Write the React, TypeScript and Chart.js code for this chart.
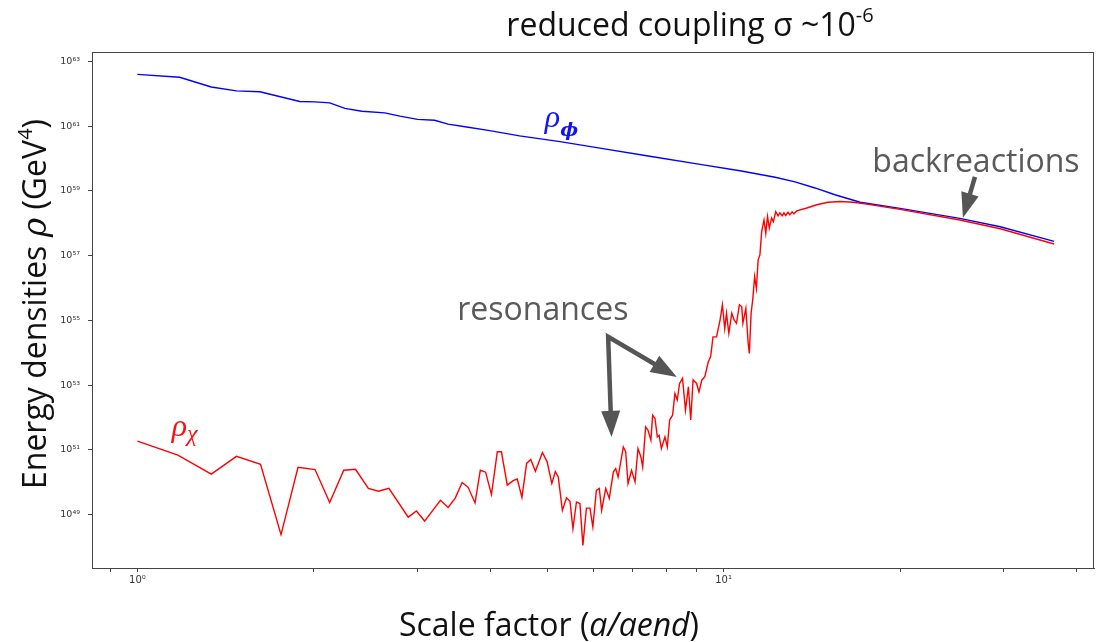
import React, { useEffect, useRef } from 'react';
import { Chart, registerables } from 'chart.js';

Chart.register(...registerables);

// ---- data (log10 of a/aend and log10 of rho in GeV^4) ----
const phiLogA = [0, 0.072, 0.126, 0.169, 0.209, 0.277, 0.303, 0.328, 0.354, 0.383, 0.422, 0.448, 0.478, 0.507, 0.530, 0.559, 0.601, 0.652, 0.721, 0.789, 0.874, 0.960, 1.028, 1.088, 1.122, 1.156, 1.190, 1.233, 1.301, 1.403, 1.472, 1.564];
const phiLogRho = [62.60, 62.51, 62.21, 62.09, 62.06, 61.76, 61.75, 61.72, 61.55, 61.46, 61.41, 61.31, 61.21, 61.18, 61.06, 60.98, 60.86, 60.70, 60.52, 60.32, 60.07, 59.82, 59.62, 59.42, 59.28, 59.09, 58.88, 58.65, 58.46, 58.15, 57.89, 57.44];

const chiLogA = [
  0.000, 0.069, 0.126, 0.169, 0.210, 0.245, 0.274, 0.303, 0.328, 0.352,
  0.372, 0.394, 0.411, 0.429, 0.462, 0.476, 0.490, 0.517, 0.530, 0.542,
  0.554, 0.564, 0.576, 0.585, 0.594, 0.604, 0.614, 0.621, 0.631, 0.641,
  0.648, 0.656, 0.664, 0.671, 0.679, 0.691, 0.699, 0.707, 0.713, 0.718,
  0.725, 0.732, 0.738, 0.743, 0.749, 0.755, 0.760, 0.766, 0.772, 0.777,
  0.783, 0.788, 0.792, 0.799, 0.805, 0.812, 0.816, 0.820, 0.829, 0.833,
  0.837, 0.843, 0.849, 0.854, 0.859, 0.862, 0.867, 0.871, 0.876, 0.879,
  0.883, 0.887, 0.890, 0.894, 0.900, 0.904, 0.908, 0.913, 0.917, 0.921,
  0.925, 0.930, 0.935, 0.940, 0.944, 0.948, 0.954, 0.958, 0.963, 0.968,
  0.974, 0.978, 0.982, 0.988, 0.994, 0.998, 1.002, 1.005, 1.009, 1.014,
  1.018, 1.022, 1.027, 1.031, 1.033, 1.038, 1.042, 1.044, 1.047, 1.050,
  1.053, 1.056, 1.059, 1.062, 1.065, 1.069, 1.072, 1.075, 1.078, 1.082,
  1.085, 1.089, 1.093, 1.096, 1.100, 1.103, 1.106, 1.110, 1.113, 1.117,
  1.120, 1.125, 1.142, 1.159, 1.178, 1.199, 1.221, 1.244, 1.301, 1.403,
  1.472, 1.564,
];
const chiLogRho = [
  51.27, 50.84, 50.25, 50.80, 50.55, 48.38, 50.46, 50.39, 49.37, 50.37,
  50.40, 49.81, 49.72, 49.81, 48.92, 49.11, 48.80, 49.44, 49.22, 49.50,
  49.99, 49.85, 49.36, 50.37, 50.31, 49.62, 50.94, 50.94, 49.91, 50.05,
  50.10, 49.53, 50.58, 50.70, 50.34, 50.92, 50.63, 49.96, 50.33, 50.16,
  49.13, 49.52, 49.41, 48.57, 49.39, 49.34, 48.05, 49.20, 49.20, 48.62,
  49.75, 49.81, 49.13, 49.81, 49.50, 50.32, 50.42, 50.16, 51.09, 50.94,
  49.96, 50.37, 50.01, 51.04, 50.78, 50.47, 51.71, 51.61, 51.30, 52.07,
  51.97, 51.40, 51.45, 51.04, 51.40, 51.09, 51.92, 52.07, 52.74, 52.54,
  53.05, 53.21, 52.23, 52.95, 51.92, 53.16, 53.05, 52.79, 53.16, 53.26,
  53.72, 53.88, 54.49, 54.49, 55.01, 55.48, 54.75, 55.22, 54.60, 55.22,
  55.01, 54.91, 55.48, 55.42, 54.91, 55.37, 54.29, 53.98, 55.22, 55.68,
  56.35, 55.99, 56.87, 57.02, 57.74, 58.10, 57.69, 58.21, 57.85, 58.16,
  58.05, 58.36, 58.23, 58.32, 58.23, 58.32, 58.24, 58.34, 58.26, 58.35,
  58.29, 58.38, 58.47, 58.57, 58.65, 58.67, 58.65, 58.59, 58.43, 58.10,
  57.83, 57.36,
];

// axis ranges (log10) and ticks
const xLogMin = -0.0775;
const xLogMax = 1.632;
const yLogMin = 47.35;
const yLogMax = 63.29;
const xTickValues = [0.9, 1, 2, 3, 4, 5, 6, 7, 8, 9, 10, 20, 30, 40];
const xTickLabels: Record<string, string> = { '1': '10⁰', '10': '10¹' };
const yTickExponents = [49, 51, 53, 55, 57, 59, 61, 63];

// annotation anchors in data coordinates (log10 a, log10 rho)
const resonanceText = [0.6917, 55.01];
const resonanceFrom = [0.8031, 54.494];
const resonanceTip1 = [0.8089, 51.4];
const resonanceTip2 = [0.9203, 53.247];
const backText = [1.4306, 59.59];
const backFrom = [1.4289, 59.434];
const backTip = [1.4084, 58.166];
const phiLabelAt = [0.695, 60.98];
const chiLabelAt = [0.0585, 51.42];

const SUP: Record<string, string> = { '0': '⁰', '1': '¹', '2': '²', '3': '³', '4': '⁴', '5': '⁵', '6': '⁶', '7': '⁷', '8': '⁸', '9': '⁹', '-': '⁻' };
const supStr = (s: string) => s.split('').map((c) => SUP[c] ?? c).join('');

type Run = { text: string; font: string; color: string; dy?: number };

function drawRuns(ctx: CanvasRenderingContext2D, runs: Run[], x: number, y: number, align: 'left' | 'center') {
  ctx.textAlign = 'left';
  ctx.textBaseline = 'alphabetic';
  let total = 0;
  for (const r of runs) {
    ctx.font = r.font;
    total += ctx.measureText(r.text).width;
  }
  let cx = align === 'center' ? x - total / 2 : x;
  for (const r of runs) {
    ctx.font = r.font;
    ctx.fillStyle = r.color;
    ctx.fillText(r.text, cx, y + (r.dy || 0));
    cx += ctx.measureText(r.text).width;
  }
}

function arrowHead(ctx: CanvasRenderingContext2D, x0: number, y0: number, x1: number, y1: number, hl: number, hw: number) {
  const dx = x1 - x0, dy = y1 - y0;
  const L = Math.hypot(dx, dy);
  const ux = dx / L, uy = dy / L;
  const bx = x1 - ux * hl, by = y1 - uy * hl;
  ctx.beginPath();
  ctx.moveTo(x1, y1);
  ctx.lineTo(bx - (uy * hw) / 2, by + (ux * hw) / 2);
  ctx.lineTo(bx + (uy * hw) / 2, by - (ux * hw) / 2);
  ctx.closePath();
  ctx.fill();
  return [bx + ux * 2, by + uy * 2];
}

const F = '"Open Sans"';

const framePlugin = {
  id: 'frameAndText',
  afterDraw(chart: any) {
    const ctx: CanvasRenderingContext2D = chart.ctx;
    const { left, top, right, bottom } = chart.chartArea;
    const xs = chart.scales.x, ys = chart.scales.y;
    const P = (p: number[]) => [xs.getPixelForValue(Math.pow(10, p[0])), ys.getPixelForValue(Math.pow(10, p[1]))];
    ctx.save();
    // frame
    ctx.strokeStyle = '#444';
    ctx.lineWidth = 1;
    ctx.strokeRect(Math.round(left) + 0.5, Math.round(top) + 0.5, Math.round(right - left) - 1, Math.round(bottom - top));

    // title
    drawRuns(ctx, [
      { text: 'reduced coupling σ ~10', font: `32px ${F}`, color: '#111' },
      { text: '-6', font: `20px ${F}`, color: '#111', dy: -14 },
    ], 690, 36, 'center');

    // x title
    drawRuns(ctx, [
      { text: 'Scale factor (', font: `32px ${F}`, color: '#111' },
      { text: 'a/aend', font: `italic 32px ${F}`, color: '#111' },
      { text: ')', font: `32px ${F}`, color: '#111' },
    ], 549, 636, 'center');

    // y title
    ctx.save();
    ctx.translate(46, 304);
    ctx.rotate(-Math.PI / 2);
    drawRuns(ctx, [
      { text: 'Energy densities ', font: `32px ${F}`, color: '#111' },
      { text: 'ρ', font: 'italic 33px "DejaVu Serif"', color: '#111' },
      { text: ' (GeV', font: `32px ${F}`, color: '#111' },
      { text: '4', font: `20px ${F}`, color: '#111', dy: -14 },
      { text: ')', font: `32px ${F}`, color: '#111' },
    ], 0, 0, 'center');
    ctx.restore();

    // series labels
    const pp = P(phiLabelAt);
    drawRuns(ctx, [
      { text: 'ρ', font: 'italic 32px "Liberation Serif"', color: '#1010ff' },
      { text: 'ϕ', font: 'bold italic 19px "DejaVu Serif"', color: '#1010ff', dy: 9 },
    ], pp[0], pp[1], 'left');
    const pc = P(chiLabelAt);
    drawRuns(ctx, [
      { text: 'ρ', font: 'italic 32px "Liberation Serif"', color: '#ff1010' },
      { text: 'χ', font: 'italic 24px "Liberation Serif"', color: '#ff1010', dy: 5 },
    ], pc[0], pc[1], 'left');

    // annotations
    const grey = '#5a5a5a';
    const rt = P(resonanceText);
    drawRuns(ctx, [{ text: 'resonances', font: `32px ${F}`, color: grey }], rt[0], rt[1], 'center');
    const bt = P(backText);
    drawRuns(ctx, [{ text: 'backreactions', font: `32px ${F}`, color: grey }], bt[0], bt[1], 'center');

    ctx.fillStyle = '#555';
    ctx.strokeStyle = '#555';
    ctx.lineWidth = 4.5;
    ctx.lineJoin = 'miter';
    ctx.lineCap = 'butt';
    const o = P(resonanceFrom), t1 = P(resonanceTip1), t2 = P(resonanceTip2);
    const b1 = arrowHead(ctx, o[0], o[1], t1[0], t1[1], 26, 19);
    const b2 = arrowHead(ctx, o[0], o[1], t2[0], t2[1], 26, 19);
    ctx.beginPath();
    ctx.moveTo(b1[0], b1[1]);
    ctx.lineTo(o[0], o[1]);
    ctx.lineTo(b2[0], b2[1]);
    ctx.stroke();
    const bf = P(backFrom), btp = P(backTip);
    const b3 = arrowHead(ctx, bf[0], bf[1], btp[0], btp[1], 25, 18);
    ctx.beginPath();
    ctx.moveTo(bf[0], bf[1]);
    ctx.lineTo(b3[0], b3[1]);
    ctx.stroke();
    ctx.restore();
  },
};

const toPoints = (la: number[], lr: number[]) => la.map((v, i) => ({ x: Math.pow(10, v), y: Math.pow(10, lr[i]) }));

export default function App() {
  const ref = useRef<HTMLCanvasElement>(null);
  useEffect(() => {
    if (!ref.current) return;
    const chart = new Chart(ref.current, {
      type: 'line',
      data: {
        datasets: [
          {
            label: 'rho_chi',
            data: toPoints(chiLogA, chiLogRho),
            borderColor: '#ff0000',
            borderWidth: 1.4,
            pointRadius: 0,
            tension: 0,
            fill: false,
          },
          {
            label: 'rho_phi',
            data: toPoints(phiLogA, phiLogRho),
            borderColor: '#0000ff',
            borderWidth: 1.4,
            pointRadius: 0,
            tension: 0,
            fill: false,
          },
        ],
      },
      options: {
        animation: false,
        responsive: false,
        devicePixelRatio: 1,
        layout: { padding: { left: 0, top: 52, right: 6, bottom: 0 } },
        plugins: { legend: { display: false }, tooltip: { enabled: false }, title: { display: false } },
        scales: {
          x: {
            type: 'logarithmic',
            min: Math.pow(10, xLogMin),
            max: Math.pow(10, xLogMax),
            afterBuildTicks: (s: any) => {
              s.ticks = xTickValues.map((v) => ({ value: v }));
            },
            afterFit: (s: any) => {
              s.height = 74;
            },
            ticks: {
              autoSkip: false,
              maxRotation: 0,
              minRotation: 0,
              padding: 2,
              color: '#333',
              font: { family: 'DejaVu Sans', size: 10 },
              callback: (v: any) => xTickLabels[String(v)] ?? '',
            },
            grid: { drawOnChartArea: false, drawTicks: true, tickLength: 4, color: '#444' },
            border: { display: true, color: '#444', width: 1 },
          },
          y: {
            type: 'logarithmic',
            min: Math.pow(10, yLogMin),
            max: Math.pow(10, yLogMax),
            afterBuildTicks: (s: any) => {
              s.ticks = yTickExponents.map((e) => ({ value: Math.pow(10, e) }));
            },
            afterFit: (s: any) => {
              s.width = 92;
            },
            ticks: {
              autoSkip: false,
              padding: 8,
              color: '#333',
              font: { family: 'DejaVu Sans', size: 9.5 },
              callback: (v: any) => '10' + supStr(String(Math.round(Math.log10(Number(v))))),
            },
            grid: { drawOnChartArea: false, drawTicks: true, tickLength: 4, color: '#444' },
            border: { display: true, color: '#444', width: 1 },
          },
        },
      },
      plugins: [framePlugin],
    } as any);
    return () => chart.destroy();
  }, []);
  return (
    <div style={{ position: 'absolute', left: 0, top: 0, width: 1100, height: 642, background: '#fff' }}>
      <canvas ref={ref} width={1100} height={642} style={{ display: 'block' }} />
    </div>
  );
}
